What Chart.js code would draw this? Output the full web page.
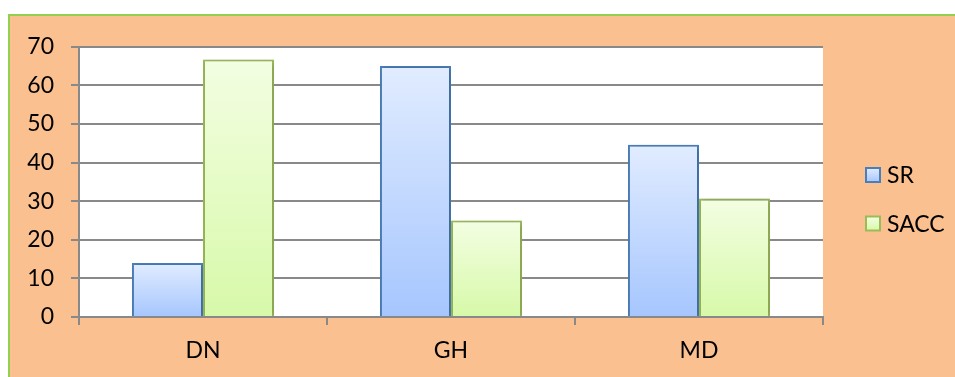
<!DOCTYPE html>
<html>
<head>
<meta charset="utf-8">
<script src="https://cdn.jsdelivr.net/npm/chart.js@4/dist/chart.umd.min.js"></script>
<style>
  html, body { margin: 0; padding: 0; background: #ffffff; width: 955px; height: 377px; overflow: hidden; }
  #frame {
    position: absolute; left: 8px; top: 14px; width: 960px; height: 380px;
    background: #FAC090; border-left: 2px solid #92D050; border-top: 2px solid #92D050;
  }
  #wrap { position: absolute; left: 0; top: 0; width: 945px; height: 361px; }
</style>
</head>
<body>
<div id="frame"><div id="wrap"><canvas id="c"></canvas></div></div>
<script>
// Category names, series values and y tick values
const categories = ['DN', 'GH', 'MD'];
const srValues = [14, 65, 44.6];
const saccValues = [66.7, 25, 30.7];
const yTickValues = [0, 10, 20, 30, 40, 50, 60, 70];
const seriesNames = ['SR', 'SACC'];

const FONT = 'Lato, "Open Sans", sans-serif';
const FONT_SIZE = 23;
const GRID = '#898989';

const seriesStyle = {
  SR:   { top: '#E1ECFF', bottom: '#A6C6FE', border: '#4A7EBB' },
  SACC: { top: '#F3FEE2', bottom: '#D7F9A9', border: '#9BBB59' }
};

// Vertical gradient spanning each bar from its value down to zero
function barFill(style) {
  return (ctx) => {
    const chart = ctx.chart;
    if (!chart.chartArea || ctx.raw == null) return style.bottom;
    const y = chart.scales.y;
    const y0 = y.getPixelForValue(ctx.raw);
    const y1 = y.getPixelForValue(0);
    const g = chart.ctx.createLinearGradient(0, y0, 0, y1);
    g.addColorStop(0, style.top);
    g.addColorStop(1, style.bottom);
    return g;
  };
}

// White plot background
const plotBackground = {
  id: 'plotBackground',
  beforeDraw(chart) {
    const { ctx, chartArea: a } = chart;
    ctx.save();
    ctx.fillStyle = '#ffffff';
    ctx.fillRect(a.left, a.top, a.right - a.left, a.bottom - a.top);
    ctx.restore();
  }
};

// Soft drop shadow under the bars
const barShadow = {
  id: 'barShadow',
  beforeDatasetsDraw(chart) {
    const ctx = chart.ctx;
    ctx.save();
    ctx.shadowColor = 'rgba(0,0,0,0.28)';
    ctx.shadowBlur = 5;
    ctx.shadowOffsetX = 1;
    ctx.shadowOffsetY = 1;
  },
  afterDatasetsDraw(chart) {
    chart.ctx.restore();
  }
};

// Legend at the right, one entry per series
const sideLegend = {
  id: 'sideLegend',
  afterDraw(chart) {
    const ctx = chart.ctx;
    const a = chart.chartArea;
    const boxX = a.right + 43;
    const rowY = [159, 207.5];
    const size = 14;
    ctx.save();
    chart.data.datasets.forEach((ds, i) => {
      const st = seriesStyle[ds.label];
      const cy = rowY[i];
      const g = ctx.createLinearGradient(0, cy - size / 2, 0, cy + size / 2);
      g.addColorStop(0, st.top);
      g.addColorStop(1, st.bottom);
      ctx.fillStyle = g;
      ctx.fillRect(boxX, cy - size / 2, size, size);
      ctx.strokeStyle = st.border;
      ctx.lineWidth = 2;
      ctx.strokeRect(boxX, cy - size / 2, size, size);
      ctx.fillStyle = '#000000';
      ctx.font = FONT_SIZE + 'px ' + FONT;
      ctx.textAlign = 'left';
      ctx.textBaseline = 'middle';
      ctx.fillText(ds.label, boxX + 21, cy + 1);
    });
    ctx.restore();
  }
};

new Chart(document.getElementById('c'), {
  type: 'bar',
  data: {
    labels: categories,
    datasets: [
      {
        label: seriesNames[0],
        data: srValues,
        backgroundColor: barFill(seriesStyle.SR),
        borderColor: seriesStyle.SR.border,
        borderWidth: 2
      },
      {
        label: seriesNames[1],
        data: saccValues,
        backgroundColor: barFill(seriesStyle.SACC),
        borderColor: seriesStyle.SACC.border,
        borderWidth: 2
      }
    ]
  },
  options: {
    responsive: true,
    maintainAspectRatio: false,
    animation: false,
    devicePixelRatio: 1,
    layout: { padding: { top: 28, right: 132, left: 0, bottom: 0 } },
    categoryPercentage: 0.573,
    barPercentage: 1,
    plugins: {
      legend: { display: false },
      tooltip: { enabled: false }
    },
    scales: {
      x: {
        offset: true,
        grid: {
          offset: true,
          drawOnChartArea: false,
          drawTicks: true,
          tickLength: 8,
          color: GRID,
          lineWidth: 2
        },
        border: { display: true, color: GRID, width: 2 },
        ticks: {
          color: '#000000',
          font: { family: FONT, size: FONT_SIZE },
          padding: 12
        },
        afterFit(scale) { scale.height = 60; }
      },
      y: {
        min: 0,
        max: 70,
        afterBuildTicks(scale) {
          scale.ticks = yTickValues.map(v => ({ value: v }));
        },
        grid: {
          color: GRID,
          lineWidth: 2,
          drawTicks: true,
          tickLength: 8
        },
        border: { display: true, color: GRID, width: 2 },
        ticks: {
          color: '#000000',
          font: { family: FONT, size: FONT_SIZE },
          padding: 17
        },
        afterFit(scale) { scale.width = 69; }
      }
    }
  },
  plugins: [plotBackground, barShadow, sideLegend]
});
</script>
</body>
</html>
